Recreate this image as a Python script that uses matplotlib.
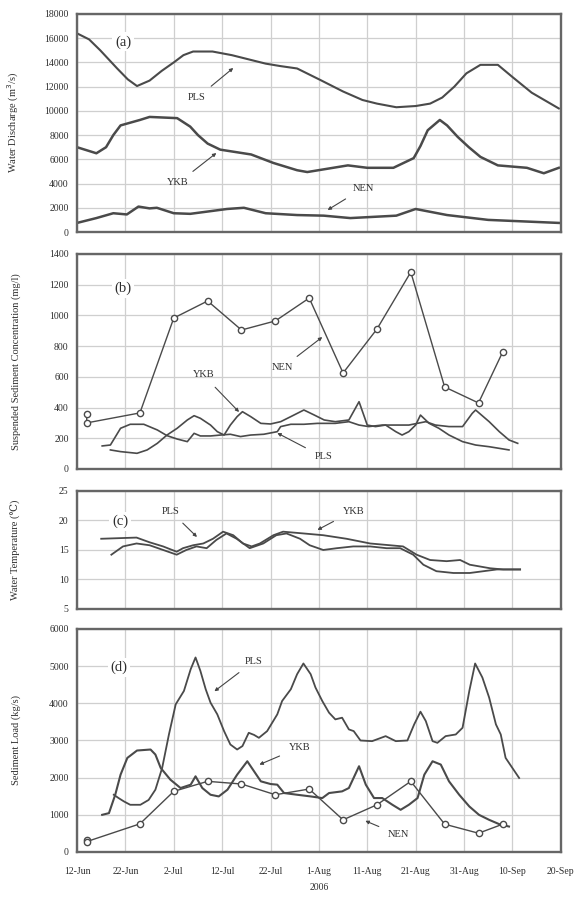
import numpy as np
import matplotlib
matplotlib.use('Agg')
from matplotlib import pyplot as plt

# x axis: days since 12-Jun-2006
date_labels = ['12-Jun', '22-Jun', '2-Jul', '12-Jul', '22-Jul', '1-Aug',
               '11-Aug', '21-Aug', '31-Aug', '10-Sep', '20-Sep']

# (a) water discharge
q_pls_day = [0, 2.5, 4.8, 8.3, 10.5, 12.4, 15, 17.5, 20, 22, 24, 28, 32, 35, 39, 42, 45.5, 50.3, 55, 59,
             62, 66, 70, 73, 75.5, 78, 80.5, 83.4, 87, 90, 94, 99.6]
q_pls = [16400, 15900, 15000, 13500, 12600, 12050, 12500, 13300, 14000, 14600, 14900, 14900, 14600, 14300,
         13900, 13700, 13500, 12550, 11600, 10900, 10600, 10300, 10400, 10600, 11100, 12000, 13100, 13800,
         13800, 12800, 11500, 10200]
q_ykb_day = [0, 4, 6, 7.5, 9, 13, 15, 20.7, 23.4, 25, 27, 29.6, 36, 40.6, 45.5, 47.6, 56, 60, 65.4, 69.6,
             71, 72.5, 75, 76.5, 78.7, 81, 83.4, 87, 93, 96.5, 99.6]
q_ykb = [7000, 6500, 7000, 8000, 8800, 9250, 9500, 9400, 8700, 8000, 7300, 6800, 6400, 5700, 5100, 4950,
         5500, 5300, 5300, 6100, 7100, 8400, 9250, 8800, 7850, 7000, 6200, 5500, 5300, 4850, 5300]
q_nen_day = [0, 4, 7.5, 10.3, 12.7, 15, 16.5, 20, 23.4, 31, 34.5, 39, 45.5, 51, 56.5, 66, 70, 76.5, 85, 99.6]
q_nen = [750, 1150, 1550, 1450, 2100, 1950, 2000, 1550, 1500, 1900, 2000, 1550, 1400, 1350, 1150, 1350,
         1900, 1400, 1000, 750]

# (b) suspended sediment concentration
ssc_pls_day = [5.2, 6.9, 9.0, 11.0, 13.8, 16.6, 18.6, 20.7, 22.8, 24.2, 25.5, 27.6, 29.7, 31.7, 33.8, 35.9,
               38.6, 41.4, 42.1, 44.2, 46.9, 49.7, 53.4, 56.2, 58.3, 60.3, 63.1, 65.9, 68.6, 72.1, 74.1,
               76.9, 79.7, 81.7, 82.4, 85.2, 87.3, 89.3, 91.1]
ssc_pls = [150, 156, 265, 291, 291, 254, 217, 195, 178, 232, 215, 215, 221, 226, 211, 221,
           226, 243, 276, 291, 291, 297, 297, 308, 286, 276, 286, 286, 286, 308, 286,
           276, 276, 362, 384, 308, 243, 189, 167]
ssc_ykb_day = [6.9, 9.0, 12.4, 14.5, 16.6, 18.6, 20.7, 22.8, 24.2, 25.5, 27.6, 29.0, 30.4, 31.7, 33.1, 34.2,
               35.9, 38.0, 40.0, 42.1, 44.2, 46.9, 49.0, 51.1, 53.4, 56.2, 58.3, 60.0, 61.7, 63.8, 65.9,
               67.2, 68.6, 70.0, 71.0, 72.8, 74.8, 76.9, 79.7, 82.4, 85.2, 89.3]
ssc_ykb = [124, 113, 102, 124, 167, 221, 265, 319, 347, 330, 286, 243, 221, 286, 341, 373,
           341, 297, 293, 308, 341, 384, 352, 319, 308, 319, 438, 286, 276, 286, 243,
           221, 243, 286, 351, 297, 265, 221, 178, 156, 145, 124]
nen_day = [2, 2, 13, 20, 27, 34, 41, 48, 55, 62, 69, 76, 83, 88]
ssc_nen = [360, 300, 365, 983, 1094, 905, 964, 1113, 625, 911, 1282, 534, 430, 762]

# (c) water temperature
t_ykb_day = [5.0, 12.3, 15.0, 17.8, 20.6, 21.9, 24.0, 26.1, 28.1, 30.2, 32.3, 34.3, 36.1, 37.8, 40.6, 42.6,
             46.8, 50.9, 55.7, 60.6, 64.7, 67.4, 70.2, 73.0, 76.4, 79.2, 81.2, 85.4, 88.1, 91.6]
t_ykb = [16.9, 17.1, 16.3, 15.6, 14.7, 15.3, 15.8, 16.1, 16.9, 18.1, 17.5, 16.1, 15.6, 16.1, 17.5, 18.1,
         17.8, 17.5, 16.9, 16.1, 15.8, 15.6, 14.2, 13.3, 13.1, 13.3, 12.5, 11.9, 11.7, 11.7]
t_pls_day = [7.1, 9.5, 12.3, 15.0, 17.8, 20.6, 22.6, 24.7, 26.8, 28.8, 30.9, 33.0, 35.7, 38.5, 41.2, 43.3,
             46.1, 48.1, 50.9, 53.7, 57.1, 60.6, 64.0, 66.8, 69.5, 71.6, 74.3, 77.8, 81.2, 84.0, 86.8, 91.6]
t_pls = [14.2, 15.6, 16.1, 15.8, 15.0, 14.2, 15.0, 15.6, 15.3, 16.7, 17.8, 16.9, 15.3, 16.1, 17.5, 17.8,
         16.9, 15.8, 15.0, 15.3, 15.6, 15.6, 15.3, 15.3, 14.2, 12.5, 11.4, 11.1, 11.1, 11.4, 11.7, 11.7]

# (d) sediment load
load_pls_day = [7.6, 8.6, 9.7, 11.0, 13.1, 14.8, 16.2, 17.6, 19.0, 20.4, 22.1, 23.5, 24.5, 25.5, 26.6, 27.6,
                29.0, 30.4, 31.7, 33.1, 34.2, 35.5, 36.6, 37.6, 39.3, 41.4, 42.4, 44.2, 45.5, 46.8, 48.3,
                49.3, 50.7, 52.1, 53.4, 54.8, 56.2, 57.2, 58.6, 61.0, 63.8, 65.9, 68.3, 69.7, 71.0, 72.1,
                73.5, 74.5, 76.2, 78.3, 79.7, 81.1, 82.3, 83.8, 85.2, 86.6, 87.6, 88.6, 90.0, 91.4]
load_pls = [1540, 1450, 1360, 1270, 1270, 1400, 1676, 2261, 3162, 3973, 4333, 4919, 5234, 4874, 4379, 4018,
            3703, 3252, 2892, 2757, 2850, 3207, 3150, 3072, 3252, 3703, 4063, 4379, 4784, 5072, 4784,
            4424, 4063, 3748, 3568, 3613, 3298, 3252, 3000, 2982, 3117, 2982, 3000, 3433, 3775, 3523,
            2982, 2937, 3117, 3162, 3342, 4334, 5072, 4694, 4154, 3433, 3162, 2532, 2261, 1991]
load_ykb_day = [5.2, 6.6, 7.9, 9.0, 10.4, 12.4, 15.2, 16.2, 17.3, 19.3, 21.4, 23.5, 24.5, 25.9, 27.6, 29.3,
                31.1, 33.1, 35.2, 36.6, 38.0, 40.0, 41.4, 42.8, 45.5, 48.3, 50.7, 52.1, 54.8, 56.2, 58.3,
                59.7, 61.4, 63.1, 65.2, 66.9, 68.6, 70.4, 71.8, 73.5, 75.2, 76.9, 79.0, 81.1, 83.1, 85.2,
                87.3, 89.3]
load_ykb = [1000, 1045, 1540, 2080, 2531, 2730, 2757, 2622, 2261, 1946, 1721, 1811, 2036, 1721, 1540, 1495,
            1676, 2080, 2441, 2171, 1901, 1829, 1811, 1586, 1540, 1495, 1450, 1586, 1631, 1721, 2307,
            1811, 1451, 1451, 1270, 1135, 1270, 1451, 2081, 2441, 2352, 1901, 1541, 1225, 1000, 865,
            748, 685]
load_nen = [330, 279, 757, 1631, 1901, 1829, 1540, 1694, 865, 1270, 1901, 748, 505, 748]

plt.rcParams['font.family'] = ['Liberation Serif', 'DejaVu Serif']
line_c = '#4a4a4a'
frame_c = '#666666'
grid_c = '#cfcfcf'
text_c = '#2e2e2e'

fig = plt.figure(figsize=(5.8, 9.01), dpi=100)
ax_a = fig.add_axes([0.1328, 0.7425, 0.834, 0.242])
ax_b = fig.add_axes([0.1328, 0.4795, 0.834, 0.2386])
ax_c = fig.add_axes([0.1328, 0.3241, 0.834, 0.131])
ax_d = fig.add_axes([0.1328, 0.0544, 0.834, 0.2475])


def style(ax, ylim, ystep, ylabel):
    ax.set_xlim(0, 100)
    ax.set_ylim(*ylim)
    ax.set_xticks(np.arange(0, 101, 10))
    ax.set_yticks(np.arange(ylim[0], ylim[1] + ystep / 2, ystep))
    ax.grid(True, color=grid_c, lw=0.9)
    ax.set_axisbelow(True)
    for s in ax.spines.values():
        s.set_color(frame_c)
        s.set_linewidth(1.7)
    ax.tick_params(length=0, labelsize=7, pad=6, colors=text_c)
    ax.set_ylabel(ylabel, fontsize=7.5, color=text_c)
    ax.yaxis.set_label_coords(-0.115, 0.5)


def note(ax, text, xy, xytext):
    ax.annotate(text, xy=xy, xytext=xytext, fontsize=7.5, color=text_c, ha='center', va='center',
                arrowprops=dict(arrowstyle='-|>', color='#444444', lw=0.8, mutation_scale=5,
                                shrinkA=5, shrinkB=0))


def panel_tag(ax, text, xy):
    ax.text(xy[0], xy[1], text, fontsize=10.5, color=text_c, ha='center', va='center',
            bbox=dict(facecolor='white', edgecolor='none', pad=2))


# (a)
ax_a.plot(q_pls_day, q_pls, color=line_c, lw=1.5)
ax_a.plot(q_ykb_day, q_ykb, color=line_c, lw=1.8)
ax_a.plot(q_nen_day, q_nen, color=line_c, lw=1.8)
style(ax_a, (0, 18000), 2000, 'Water Discharge (m$^3$/s)')
ax_a.set_xticklabels([])
panel_tag(ax_a, '(a)', (9.5, 15700))
note(ax_a, 'PLS', (32.3, 13540), (24.8, 11070))
note(ax_a, 'YKB', (28.8, 6520), (20.9, 4050))
note(ax_a, 'NEN', (51.8, 1820), (59.2, 3630))

# (b)
ax_b.plot(ssc_pls_day, ssc_pls, color=line_c, lw=1.2)
ax_b.plot(ssc_ykb_day, ssc_ykb, color=line_c, lw=1.2)
ax_b.plot(nen_day, ssc_nen, color=line_c, lw=1.0, marker='o', ms=4.5, mfc='white', mec=line_c, mew=1.0)
style(ax_b, (0, 1400), 200, 'Suspended Sediment Concentration (mg/l)')
ax_b.set_xticklabels([])
panel_tag(ax_b, '(b)', (9.5, 1178))
note(ax_b, 'YKB', (33.5, 371), (26.1, 612))
note(ax_b, 'NEN', (50.7, 859), (42.4, 658))
note(ax_b, 'PLS', (41.4, 234), (50.9, 78))

# (c)
ax_c.plot(t_ykb_day, t_ykb, color=line_c, lw=1.3)
ax_c.plot(t_pls_day, t_pls, color=line_c, lw=1.3)
style(ax_c, (5, 25), 5, 'Water Temperature (\u2103)')
ax_c.set_xticklabels([])
panel_tag(ax_c, '(c)', (8.9, 19.9))
note(ax_c, 'PLS', (24.8, 17.2), (19.3, 21.6))
note(ax_c, 'YKB', (49.7, 18.4), (57.1, 21.6))

# (d)
ax_d.plot(load_pls_day, load_pls, color=line_c, lw=1.3)
ax_d.plot(load_ykb_day, load_ykb, color=line_c, lw=1.5)
ax_d.plot(nen_day, load_nen, color=line_c, lw=1.0, marker='o', ms=4.5, mfc='white', mec=line_c, mew=1.0)
style(ax_d, (0, 6000), 1000, 'Sediment Load (kg/s)')
ax_d.set_xticklabels(date_labels)
ax_d.tick_params(axis='x', pad=11)
ax_d.set_xlabel('2006', fontsize=7, color=text_c, labelpad=5)
panel_tag(ax_d, '(d)', (8.7, 4973))
note(ax_d, 'PLS', (28.4, 4324), (36.6, 5135))
note(ax_d, 'YKB', (37.7, 2351), (46.0, 2811))
note(ax_d, 'NEN', (59.6, 838), (66.5, 459))

fig.savefig('out.png', dpi=100)
